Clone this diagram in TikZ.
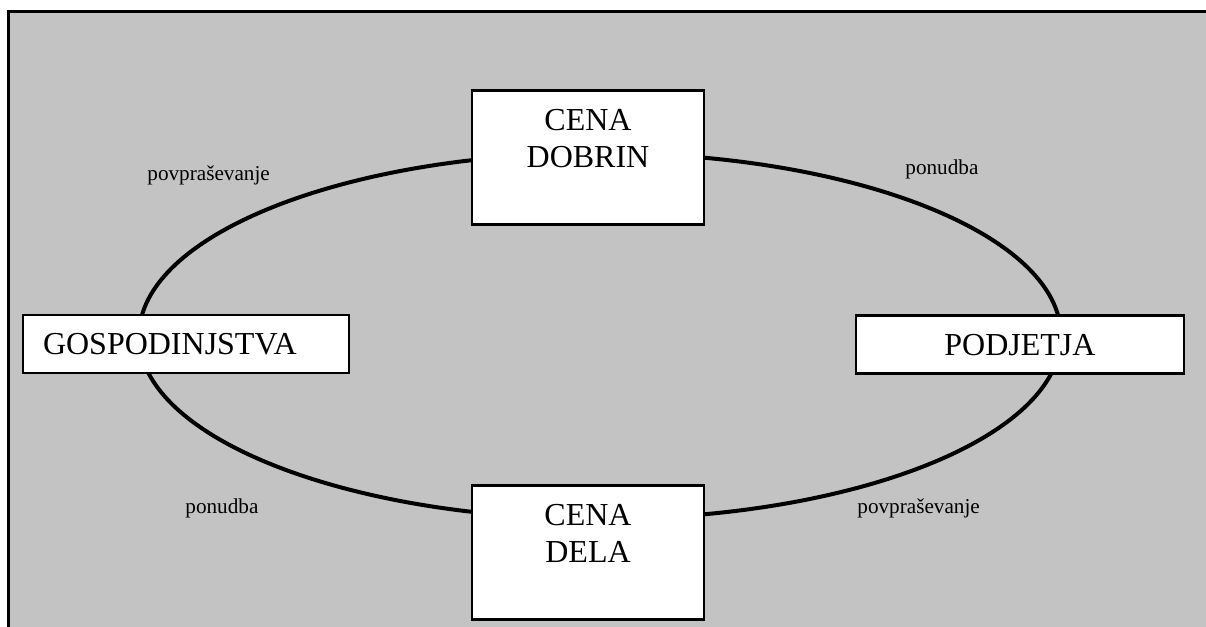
\documentclass[tikz,border=0pt]{standalone}
\usepackage{fontspec}
\setmainfont{Liberation Serif}
\definecolor{bg}{RGB}{195,195,195}
\begin{document}
\begin{tikzpicture}[x=0.5pt,y=-0.5pt,
  box/.style={draw,fill=white,line width=1.3pt,font=\fontsize{16}{18.5}\selectfont},
  tall/.style={box,align=center,minimum width=116pt,inner sep=0pt,text height=38.5pt,text depth=28.5pt},
  flat/.style={box,minimum height=29pt,text height=10.6pt,text depth=0pt}]
  \useasboundingbox (0,0) rectangle (1206,627);
  \clip (0,0) rectangle (1206,627);
  \draw[line width=1.3pt,fill=bg] (8.5,11.5) rectangle (1230,650);
  \coordinate   (M)         at (600,336);
  \draw[line width=2pt] (M) ellipse [x radius=230.5pt, y radius=91.5pt];
  \node[tall,anchor=north] (D) at (588,89)  {CENA\\DOBRIN};
  \node[tall,anchor=north] (L) at (588,484) {CENA\\DELA};
  \node[flat,text width=143pt,inner xsep=10pt,align=left] (G) at (186,344) {GOSPODINJSTVA};
  \node[flat,minimum width=164pt] (P) at (1020,344.5) {PODJETJA};
  \begin{scope}[every node/.style={anchor=base west,inner sep=0pt,font=\fontsize{10.6}{12}\selectfont}]
     \node (d1) at (147,180) {povpraševanje};
     \node (s1) at (905,174) {ponudba};
     \node (s2) at (185,513) {ponudba};
     \node (d2) at (857,513) {povpraševanje};
  \end{scope}
\end{tikzpicture}
\end{document}
